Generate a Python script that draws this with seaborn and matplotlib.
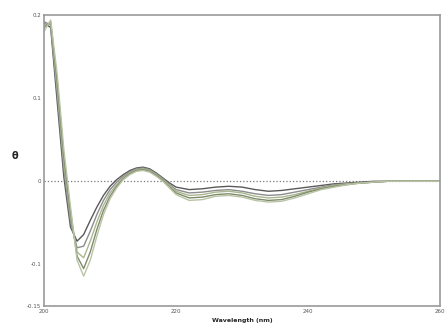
import numpy as np
import pandas as pd
import matplotlib
matplotlib.use("Agg")
import matplotlib.pyplot as plt
import seaborn as sns

# wavelength grid (nm): 1 nm steps up to 219, then 2 nm steps
wavelength = list(range(200, 220)) + list(range(220, 261, 2))

series_a = [0.190, 0.185, 0.095, 0.005, -0.055, -0.072, -0.064, -0.047, -0.031, -0.017,
            -0.006, 0.002, 0.008, 0.013, 0.016, 0.017, 0.015, 0.010, 0.004, -0.002,
            -0.007, -0.010, -0.009, -0.007, -0.006, -0.007, -0.010, -0.012, -0.011, -0.009,
            -0.007, -0.005, -0.003, -0.002, -0.001, 0.0, 0.0, 0.0, 0.0, 0.0, 0.0]
series_b = [0.192, 0.188, 0.105, 0.015, -0.048, -0.080, -0.078, -0.060, -0.040, -0.023,
            -0.010, -0.001, 0.006, 0.011, 0.015, 0.016, 0.014, 0.009, 0.003, -0.004,
            -0.010, -0.014, -0.013, -0.011, -0.010, -0.012, -0.015, -0.017, -0.016, -0.013,
            -0.010, -0.007, -0.004, -0.003, -0.002, -0.001, 0.0, 0.0, 0.0, 0.0, 0.0]
series_c = [0.188, 0.190, 0.112, 0.022, -0.042, -0.085, -0.092, -0.072, -0.049, -0.029,
            -0.014, -0.004, 0.004, 0.010, 0.014, 0.015, 0.013, 0.008, 0.002, -0.005,
            -0.012, -0.017, -0.016, -0.013, -0.012, -0.014, -0.018, -0.020, -0.019, -0.016,
            -0.012, -0.008, -0.005, -0.003, -0.002, -0.001, 0.0, 0.0, 0.0, 0.0, 0.0]
series_d = [0.185, 0.192, 0.120, 0.030, -0.036, -0.090, -0.105, -0.085, -0.058, -0.035,
            -0.018, -0.006, 0.003, 0.009, 0.013, 0.014, 0.012, 0.007, 0.001, -0.007,
            -0.014, -0.020, -0.019, -0.016, -0.015, -0.017, -0.021, -0.023, -0.022, -0.018,
            -0.013, -0.009, -0.006, -0.004, -0.002, -0.001, 0.0, 0.0, 0.0, 0.0, 0.0]
series_e = [0.180, 0.194, 0.128, 0.038, -0.030, -0.095, -0.114, -0.095, -0.066, -0.040,
            -0.021, -0.008, 0.002, 0.008, 0.012, 0.013, 0.011, 0.006, 0.000, -0.008,
            -0.016, -0.023, -0.022, -0.018, -0.017, -0.019, -0.023, -0.025, -0.024, -0.020,
            -0.015, -0.010, -0.007, -0.004, -0.002, -0.001, 0.0, 0.0, 0.0, 0.0, 0.0]

series_names = ["A", "B", "C", "D", "E"]
line_colors = ["#5a5a5a", "#8c8c8c", "#a9b78f", "#7f8a6a", "#b9c4a6"]

x_ticks = [200, 220, 240, 260]
x_ticklabels = ["200", "220", "240", "260"]
y_ticks = [-0.15, -0.1, 0, 0.1, 0.2]
y_ticklabels = ["-0.15", "-0.1", "0", "0.1", "0.2"]

rows = []
for name, vals in zip(series_names, [series_a, series_b, series_c, series_d, series_e]):
    for w, v in zip(wavelength, vals):
        rows.append({"wavelength": w, "value": v, "series": name})
df = pd.DataFrame(rows)

sns.set_style("white")
fig = plt.figure(figsize=(4.45, 3.33), dpi=100)
ax = fig.add_axes([0.099, 0.081, 0.89, 0.874])

ax.axhline(0, color="#777777", linestyle=":", linewidth=0.9, zorder=1)
sns.lineplot(data=df, x="wavelength", y="value", hue="series",
             palette=dict(zip(series_names, line_colors)),
             linewidth=1.0, legend=False, ax=ax, zorder=2)

ax.set_xlim(200, 260)
ax.set_ylim(-0.15, 0.2)
ax.set_xticks(x_ticks)
ax.set_xticklabels(x_ticklabels)
ax.set_xticks([210, 230, 250], minor=True)
ax.set_yticks(y_ticks)
ax.set_yticklabels(y_ticklabels)
ax.set_yticks([-0.05, 0.05, 0.15], minor=True)
ax.tick_params(which="both", direction="in", color="#888888", labelsize=4, labelcolor="#555555", pad=2)
ax.tick_params(which="major", length=3, width=0.6)
ax.tick_params(which="minor", length=2, width=0.5)

for sp in ax.spines.values():
    sp.set_color("#999999")
    sp.set_linewidth(1.2)

ax.set_xlabel("Wavelength (nm)", fontsize=4.5, fontweight="bold", labelpad=3)
ax.set_ylabel("θ", fontsize=7, fontweight="bold", rotation=0)
ax.yaxis.set_label_coords(-0.073, 0.50)

fig.savefig("out.png", dpi=100)
